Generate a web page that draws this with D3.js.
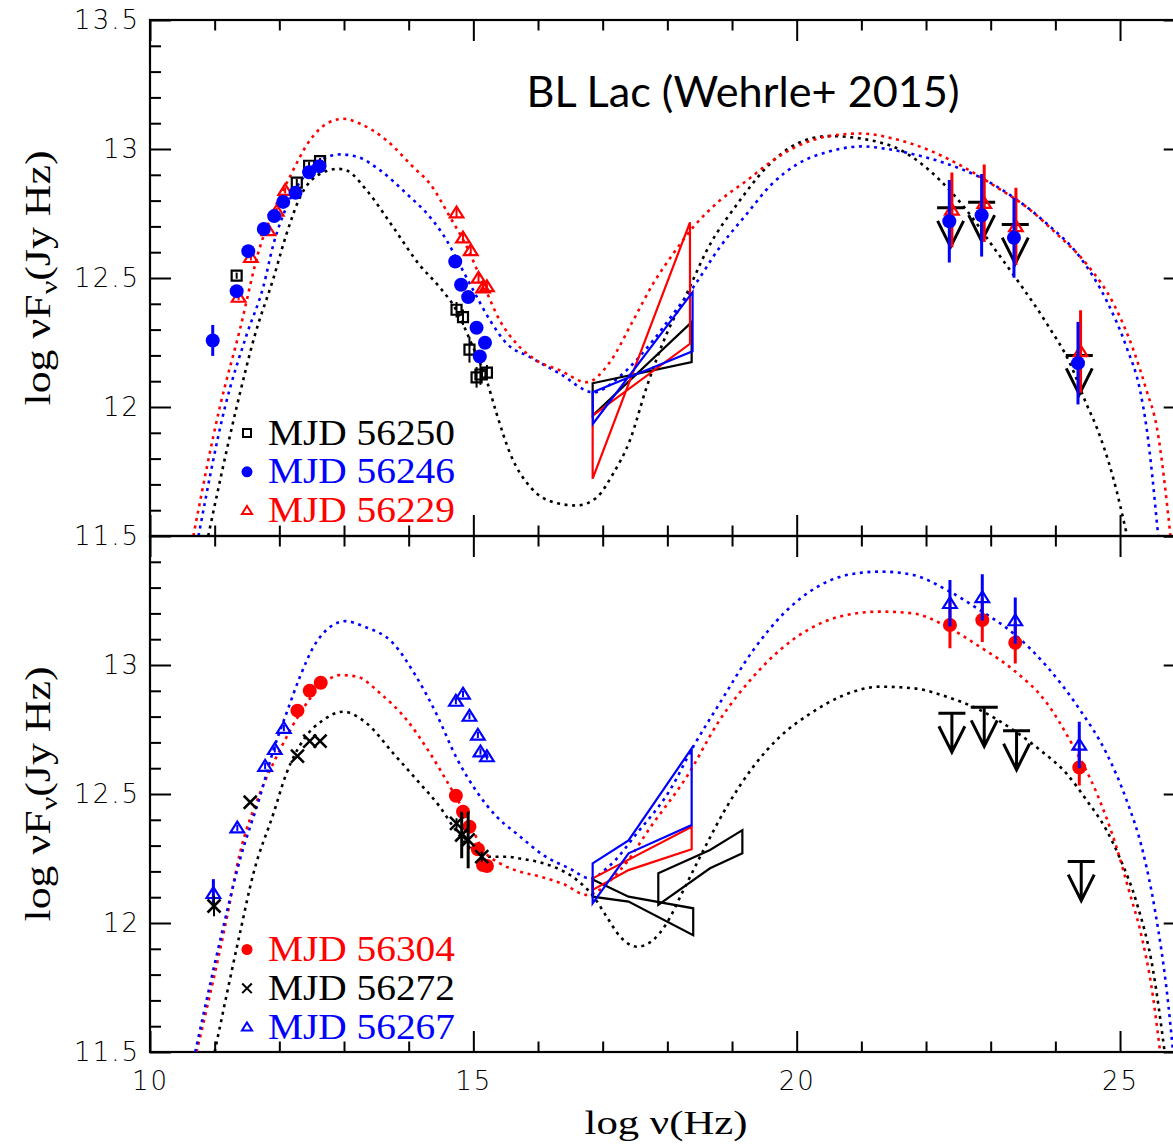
<!DOCTYPE html>
<html><head><meta charset="utf-8">
<script src="https://cdn.jsdelivr.net/npm/d3@7"></script>
<style>body{margin:0;background:#fff}svg{display:block}</style>
</head><body><svg id="c" width="1173" height="1146"></svg>
<script>
// ---------------- DATA ----------------
const xMajor = [10, 15, 20, 25];
const xMinor = [11,12,13,14,16,17,18,19,21,22,23,24,26];
const xTickLabels = ["10","15","20","25"];
const yMajorTop = [11.5, 12, 12.5, 13, 13.5];
const yMajorTopLabels = ["11.5","12","12.5","13","13.5"];
const yMajorBot = [11.5, 12, 12.5, 13];
const yMajorBotLabels = ["11.5","12","12.5","13"];
const yMinor = [11.6,11.7,11.8,11.9,12.1,12.2,12.3,12.4,12.6,12.7,12.8,12.9,13.1,13.2,13.3,13.4];

// Top panel: [log nu, log nuFnu, err]
const sq56250 = [[11.34,12.509,0.012],[12.27,12.87,0.015],[12.46,12.935,0.015],[12.63,12.953,0.012],
  [14.74,12.377,0.03],[14.84,12.348,0.03],[14.94,12.222,0.05],[15.05,12.115,0.04],[15.11,12.126,0.04],[15.21,12.133,0.03]];
const circ56246 = [[10.97,12.258,0.06],[11.34,12.449,0],[11.52,12.604,0],[11.76,12.69,0],[11.92,12.74,0],[12.06,12.795,0],
  [12.25,12.83,0],[12.46,12.91,0],[12.62,12.933,0],
  [14.72,12.564,0],[14.81,12.474,0],[14.92,12.426,0],[15.05,12.307,0],[15.18,12.249,0],[15.10,12.196,0],
  [22.36,12.72,0.16],[22.86,12.743,0.16],[23.36,12.656,0.155],[24.35,12.17,0.16]];
const tri56229 = [[11.37,12.426,0.012],[11.56,12.58,0.012],[11.83,12.684,0.012],[11.96,12.76,0.012],[12.09,12.84,0.012],
  [14.74,12.753,0.02],[14.84,12.656,0.02],[14.96,12.607,0.02],[15.08,12.50,0.02],[15.15,12.462,0.02],[15.21,12.467,0.02],
  [22.40,12.764,0.145],[22.90,12.79,0.15],[23.39,12.70,0.15],[24.39,12.215,0.16]];
const ul56250 = [[22.38,12.772],[22.86,12.794],[23.38,12.707],[24.37,12.20]];
const bt56250 = [[16.845,12.092],[18.376,12.174],[18.376,12.329],[16.845,11.967]];
const bt56246 = [[16.845,12.057],[18.39,12.216],[18.39,12.445],[16.85,11.935]];
const bt56229 = [[16.845,11.967],[18.35,12.245],[18.35,12.716],[16.845,11.722]];
const model56250 = [[10.90,11.5],[11.34,12.0],[11.62,12.277],[11.91,12.50],[12.11,12.67],[12.32,12.813],[12.63,12.904],[12.91,12.923],
  [13.04,12.917],[13.35,12.84],[13.76,12.697],[14.17,12.55],[14.48,12.464],[14.74,12.374],[14.95,12.258],[15.21,12.10],
  [15.36,11.974],[15.57,11.819],[15.88,11.69],[16.24,11.631],[16.60,11.618],[16.91,11.65],[17.16,11.741],[17.42,11.87],
  [17.68,12.077],[17.99,12.284],[18.30,12.439],[18.61,12.607],[19.12,12.80],[19.5,12.92],[20.0,13.02],[20.5,13.05],
  [21.0,13.04],[21.65,12.99],[22.22,12.878],[22.63,12.762],[23.04,12.62],[23.45,12.478],[23.87,12.322],[24.23,12.167],
  [24.48,12.012],[24.64,11.92],[24.9,11.72],[25.11,11.5]];
const model56246 = [[10.75,11.5],[11.16,12.0],[11.5,12.284],[11.75,12.464],[11.91,12.632],[12.11,12.775],[12.37,12.89],
  [12.63,12.955],[12.94,12.979],[13.2,12.97],[13.56,12.917],[13.97,12.826],[14.33,12.736],[14.59,12.645],[14.74,12.575],
  [15.0,12.452],[15.26,12.335],[15.52,12.245],[15.88,12.193],[16.34,12.129],[16.86,12.057],[17.27,12.12],[17.78,12.258],
  [18.09,12.361],[18.40,12.464],[18.81,12.619],[19.23,12.749],[19.6,12.86],[20.0,12.94],[20.5,12.99],[21.0,13.01],
  [21.4,13.0],[21.80,12.98],[22.32,12.943],[22.83,12.891],[23.35,12.813],[23.87,12.71],[24.38,12.581],[24.79,12.413],
  [25.10,12.232],[25.31,12.064],[25.41,11.92],[25.59,11.5]];
const model56229 = [[10.67,11.5],[11.08,12.0],[11.39,12.3],[11.70,12.62],[11.91,12.76],[12.16,12.891],[12.47,13.033],
  [12.73,13.098],[12.99,13.117],[13.25,13.098],[13.66,13.033],[14.07,12.93],[14.33,12.865],[14.64,12.736],[14.90,12.62],
  [15.15,12.478],[15.41,12.335],[15.67,12.245],[15.98,12.18],[16.34,12.142],[16.75,12.096],[17.1,12.17],[17.47,12.335],
  [17.78,12.478],[18.09,12.594],[18.40,12.697],[18.81,12.80],[19.23,12.878],[19.6,12.95],[20.0,13.01],[20.5,13.05],
  [21.0,13.06],[21.5,13.04],[22.06,12.994],[22.58,12.93],[23.09,12.852],[23.56,12.774],[24.02,12.671],[24.48,12.555],
  [24.90,12.40],[25.21,12.219],[25.41,12.064],[25.57,11.92],[25.78,11.5]];

// Bottom panel
const circ56304 = [[12.28,12.823,0],[12.47,12.90,0],[12.64,12.931,0],
  [14.73,12.493,0],[14.84,12.431,0],[14.94,12.373,0],[15.07,12.286,0],[15.15,12.225,0],[15.21,12.221,0],
  [22.37,13.155,0.09],[22.87,13.174,0.085],[23.38,13.086,0.08],[24.37,12.603,0.07]];
const x56272 = [[10.99,12.066,0.04],[11.55,12.468,0],[12.28,12.647,0],[12.47,12.705,0],[12.63,12.705,0],
  [14.74,12.386,0.02],[14.82,12.341,0.09],[14.92,12.322,0.11],[15.13,12.257,0.02]];
const tri56267 = [[10.98,12.115,0.055],[11.35,12.369,0.012],[11.78,12.608,0.012],[11.93,12.673,0.012],[12.07,12.755,0.012],
  [14.73,12.86,0.012],[14.84,12.888,0.012],[14.94,12.802,0.012],[15.07,12.729,0.012],[15.11,12.664,0.012],[15.21,12.645,0.012],
  [22.37,13.239,0.09],[22.87,13.262,0.09],[23.38,13.172,0.09],[24.37,12.69,0.09]];
const ul56272 = [[22.40,12.813],[22.90,12.836],[23.40,12.745],[24.40,12.238]];
const bt56267 = [[16.845,12.231],[17.40,12.32],[18.376,12.677],[18.376,12.38],[17.40,12.27],[16.845,12.076]];
const bt56304 = [[16.845,12.173],[18.376,12.373],[18.376,12.286],[17.40,12.205],[16.845,12.128]];
const bt56272a = [[16.845,12.169],[17.40,12.102],[18.40,12.057],[18.40,11.953],[17.40,12.083],[16.845,12.102]];
const bt56272b = [[17.86,12.193],[18.66,12.283],[19.16,12.36],[19.16,12.27],[18.66,12.212],[17.86,12.07]];
const model56267 = [[10.70,11.5],[11.11,11.96],[11.39,12.244],[11.70,12.49],[11.91,12.671],[12.11,12.813],[12.32,12.955],
  [12.53,13.071],[12.8,13.15],[13.02,13.17],[13.3,13.15],[13.76,13.084],[14.1,12.962],[14.43,12.81],[14.74,12.64],
  [15.05,12.51],[15.35,12.415],[15.7,12.34],[16.1,12.26],[16.5,12.21],[16.80,12.173],[17.1,12.22],[17.53,12.348],
  [18.04,12.515],[18.40,12.683],[18.81,12.852],[19.33,13.058],[19.8,13.2],[20.3,13.3],[20.8,13.35],[21.29,13.362],
  [21.80,13.349],[22.32,13.291],[22.83,13.213],[23.35,13.123],[23.87,12.994],[24.38,12.826],[24.79,12.658],[25.10,12.477],
  [25.36,12.27],[25.54,12.05],[25.75,11.676],[25.82,11.5]];
const model56304 = [[10.72,11.5],[11.16,11.986],[11.39,12.27],[11.70,12.503],[12.01,12.671],[12.32,12.813],[12.63,12.916],
  [12.94,12.961],[13.2,12.955],[13.56,12.89],[13.97,12.787],[14.33,12.658],[14.64,12.528],[14.90,12.412],[15.15,12.283],
  [15.41,12.231],[15.72,12.199],[16.03,12.18],[16.4,12.15],[16.75,12.109],[17.27,12.205],[17.78,12.386],[18.30,12.567],
  [18.81,12.787],[19.33,12.955],[19.74,13.058],[20.2,13.14],[20.7,13.19],[21.29,13.207],[21.80,13.2],[22.32,13.149],
  [22.83,13.071],[23.35,12.981],[23.87,12.852],[24.28,12.683],[24.64,12.503],[24.95,12.29],[25.15,12.115],[25.31,11.973],
  [25.51,11.714],[25.62,11.5]];
const model56272 = [[11.0,11.5],[11.39,11.96],[11.60,12.193],[11.91,12.425],[12.11,12.58],[12.37,12.709],[12.68,12.787],
  [12.99,12.819],[13.35,12.774],[13.76,12.658],[14.17,12.542],[14.48,12.451],[14.69,12.373],[14.95,12.29],[15.21,12.257],
  [15.52,12.257],[15.72,12.25],[16.03,12.235],[16.24,12.218],[16.60,12.167],[16.86,12.102],[17.06,12.025],[17.27,11.947],
  [17.53,11.908],[17.78,11.934],[17.99,11.999],[18.25,12.128],[18.56,12.283],[18.92,12.451],[19.33,12.606],[19.74,12.722],
  [20.2,12.81],[20.7,12.88],[21.29,12.916],[21.80,12.91],[22.32,12.877],[22.83,12.826],[23.35,12.748],[23.76,12.671],
  [24.17,12.58],[24.48,12.477],[24.79,12.36],[25.0,12.25],[25.26,12.076],[25.51,11.818],[25.69,11.5]];

const legendTop = ["MJD  56250","MJD  56246","MJD  56229"];
const legendBot = ["MJD  56304","MJD  56272","MJD  56267"];
const titleText = "BL Lac (Wehrle+ 2015)";

// ---------------- DRAWING ----------------
const RED = "#ff0000", BLUE = "#0000ff", BLACK = "#000000";
const svg = d3.select("#c");
svg.append("rect").attr("width",1173).attr("height",1146).attr("fill","#fff");
const x = d3.scaleLinear().domain([10,26]).range([150,1184.7]);
const yTop = d3.scaleLinear().domain([11.5,13.5]).range([536,20]);
const yBot = d3.scaleLinear().domain([11.5,13.5]).range([1052,536]);

const sqPath = s => `M${-s},${-s}H${s}V${s}H${-s}Z`;
const triPath = s => `M0,${-s}L${s*1.1},${s*0.75}L${-s*1.1},${s*0.75}Z`;
const xPath = s => `M${-s},${-s}L${s},${s}M${-s},${s}L${s},${-s}`;
const ulPath = `M-13.5,0H13.5M0,0V39M-13,13L0,39L13,13`;

function panel(y, clipId, majorY, majorLabels, showX) {
  const g = svg.append("g");
  const [x0,x1] = x.range(); const [yb,yt] = y.range();
  svg.append("clipPath").attr("id",clipId).append("rect")
     .attr("x",x0).attr("y",yt).attr("width",x1-x0).attr("height",yb-yt);
  const ax = (gen, pos, vals, size, labels, pad) => {
    const a = g.append("g").attr("transform",pos)
      .call(gen.tickValues(vals).tickSizeInner(size).tickSizeOuter(0).tickPadding(pad)
        .tickFormat(labels ? ((d,i)=>labels[i]) : ()=>""));
    a.select(".domain").remove();
    a.selectAll("line").attr("stroke","#000").attr("stroke-width",2);
    return a;
  };
  ax(d3.axisBottom(x), `translate(0,${yb})`, xMinor, -10.5, null, 0);
  const xb = ax(d3.axisBottom(x), `translate(0,${yb})`, xMajor, -21, showX ? xTickLabels : null, 20);
  ax(d3.axisTop(x), `translate(0,${yt})`, xMinor, -10.5, null, 0);
  ax(d3.axisTop(x), `translate(0,${yt})`, xMajor, -21, null, 0);
  ax(d3.axisLeft(y), `translate(${x0},0)`, yMinor, -11, null, 0);
  const yl = ax(d3.axisLeft(y), `translate(${x0},0)`, majorY, -21, majorLabels, 12);
  ax(d3.axisRight(y), `translate(${x1},0)`, yMinor, -11, null, 0);
  ax(d3.axisRight(y), `translate(${x1},0)`, [11.5,12,12.5,13,13.5], -21, null, 0);
  [xb, yl].forEach(a => a.selectAll("text").attr("fill","#000")
      .style("font-family","DejaVu Sans").style("font-size","26px").style("font-weight","300").style("letter-spacing","2px"));
  yl.selectAll("text").attr("dx","2");
  g.append("rect").attr("x",x0).attr("y",yt).attr("width",x1-x0).attr("height",yb-yt)
     .attr("fill","none").attr("stroke","#000").attr("stroke-width",2.2);
  return g.append("g").attr("clip-path",`url(#${clipId})`);
}

const line = y => d3.line().x(d=>x(d[0])).y(d=>y(d[1])).curve(d3.curveMonotoneX);
function model(g, y, data, color) {
  g.append("path").datum(data).attr("d", line(y)).attr("fill","none").attr("stroke",color)
   .attr("stroke-width",2.6).attr("stroke-dasharray","3,4.6");
}
function bowtie(g, y, data, color) {
  g.append("path").datum(data).attr("d", d3.line().x(d=>x(d[0])).y(d=>y(d[1]))(data)+"Z")
   .attr("fill","none").attr("stroke",color).attr("stroke-width",2.2).attr("stroke-linejoin","miter");
}
function errs(g, y, data, color) {
  g.selectAll(null).data(data.filter(d=>d[2]>0)).join("line")
   .attr("x1",d=>x(d[0])).attr("x2",d=>x(d[0])).attr("y1",d=>y(d[1]-d[2])).attr("y2",d=>y(d[1]+d[2]))
   .attr("stroke",color).attr("stroke-width",d=>d[2]>0.05?3:2);
}
function pts(g, y, data, color, kind) {
  errs(g, y, data, color);
  const s = g.selectAll(null).data(data);
  if (kind==="circle") s.join("circle").attr("cx",d=>x(d[0])).attr("cy",d=>y(d[1])).attr("r",7).attr("fill",color);
  else {
    const p = kind==="square" ? sqPath(5) : kind==="tri" ? triPath(6.2) : xPath(6.5);
    s.join("path").attr("transform",d=>`translate(${x(d[0])},${y(d[1])})`).attr("d",p)
     .attr("fill", "none").attr("stroke",color).attr("stroke-width", kind==="x"?2.6:2.2);
  }
}
function uls(g, y, data) {
  g.selectAll(null).data(data).join("path").attr("transform",d=>`translate(${x(d[0])},${y(d[1])})`)
   .attr("d",ulPath).attr("fill","none").attr("stroke","#000").attr("stroke-width",3);
}

// --- top panel
const gt = panel(yTop, "clipT", yMajorTop, yMajorTopLabels, false);
model(gt, yTop, model56250, BLACK);
model(gt, yTop, model56246, BLUE);
model(gt, yTop, model56229, RED);
bowtie(gt, yTop, bt56250, BLACK);
bowtie(gt, yTop, bt56229, RED);
bowtie(gt, yTop, bt56246, BLUE);
uls(gt, yTop, ul56250);
pts(gt, yTop, sq56250, BLACK, "square");
pts(gt, yTop, tri56229, RED, "tri");
pts(gt, yTop, circ56246, BLUE, "circle");

// --- bottom panel
const gb = panel(yBot, "clipB", yMajorBot, yMajorBotLabels, true);
model(gb, yBot, model56272, BLACK);
model(gb, yBot, model56304, RED);
model(gb, yBot, model56267, BLUE);
bowtie(gb, yBot, bt56272a, BLACK);
bowtie(gb, yBot, bt56272b, BLACK);
bowtie(gb, yBot, bt56304, RED);
bowtie(gb, yBot, bt56267, BLUE);
uls(gb, yBot, ul56272);
pts(gb, yBot, circ56304, RED, "circle");
pts(gb, yBot, tri56267, BLUE, "tri");
pts(gb, yBot, x56272, BLACK, "x");

// --- legends
const serif = "Liberation Serif";
function legend(items, y0) {
  items.forEach((it,i) => {
    const cy = y0 + i*38.8;
    const mk = svg.append("g").attr("transform",`translate(247,${cy})`);
    if (it.kind==="circle") mk.append("circle").attr("r",5.5).attr("fill",it.color);
    else mk.append("path").attr("d", it.kind==="square"?sqPath(4):it.kind==="tri"?triPath(4.6):xPath(4.8))
            .attr("fill","none").attr("stroke",it.color).attr("stroke-width",2);
    svg.append("text").attr("x",268).attr("y",cy+11.5).attr("fill",it.color)
      .style("font-family",serif).style("font-size","35px")
      .attr("textLength",187).attr("lengthAdjust","spacingAndGlyphs").text(it.label);
  });
}
legend([{kind:"square",color:BLACK,label:legendTop[0]},{kind:"circle",color:BLUE,label:legendTop[1]},{kind:"tri",color:RED,label:legendTop[2]}], 433);
legend([{kind:"circle",color:RED,label:legendBot[0]},{kind:"x",color:BLACK,label:legendBot[1]},{kind:"tri",color:BLUE,label:legendBot[2]}], 949.5);

// --- axis titles
function ylabel(cy) {
  const t = svg.append("text").attr("transform",`translate(50,${cy}) rotate(-90)`).attr("text-anchor","middle")
    .style("font-family",serif).style("font-size","35px").attr("fill","#000")
    .attr("textLength",255).attr("lengthAdjust","spacingAndGlyphs");
  t.append("tspan").text("log  \u03bdF");
  t.append("tspan").attr("dy",7).style("font-size","24px").text("\u03bd");
  t.append("tspan").attr("dy",-7).text("(Jy  Hz)");
}
ylabel(278); ylabel(794);
svg.append("text").attr("x",666).attr("y",1134).attr("text-anchor","middle")
  .style("font-family",serif).style("font-size","33px").attr("fill","#000")
  .attr("textLength",163).attr("lengthAdjust","spacingAndGlyphs").text("log  \u03bd(Hz)");
svg.append("text").attr("x",743).attr("y",107).attr("text-anchor","middle")
  .style("font-family","Lato").style("font-size","42px").attr("fill","#000")
  .attr("textLength",433).attr("lengthAdjust","spacingAndGlyphs").text(titleText);
</script></body></html>
